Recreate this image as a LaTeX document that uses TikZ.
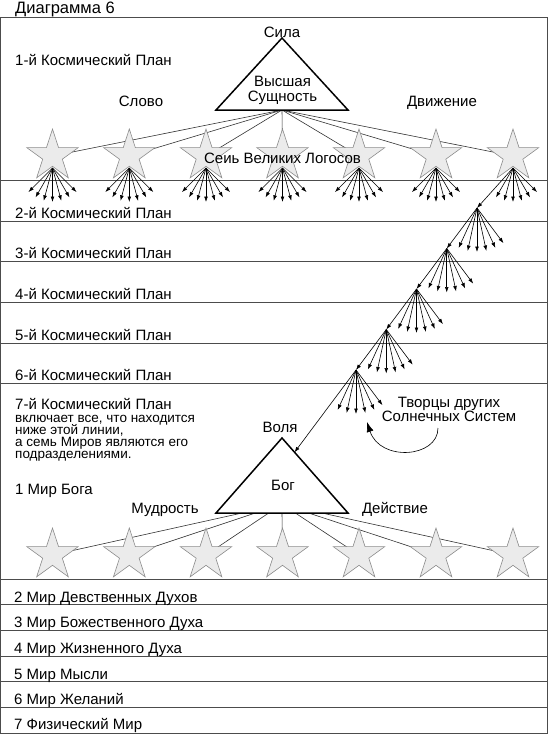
\documentclass[tikz,border=0pt]{standalone}
\usepackage{fontspec}
\setmainfont{Liberation Sans}
\usetikzlibrary{shapes.geometric,arrows.meta,calc,backgrounds}
\begin{document}
\begin{tikzpicture}[x=1pt,y=-1pt,
  lbl/.style={anchor=base west,inner sep=0pt,font=\fontsize{15}{17}\selectfont},
  clbl/.style={anchor=base,inner sep=0pt,font=\fontsize{15}{17}\selectfont},
  small/.style={anchor=base west,inner sep=0pt,font=\fontsize{13.5}{13}\selectfont},
  plane/.style={draw=black!70,line width=0.8pt},
  starnode/.style={star,star points=5,star point ratio=2.618,minimum size=54pt,inner sep=0pt,draw=black!45,fill=black!8,line width=0.6pt},
  tri/.style={draw=black,line width=1.5pt,fill=white,line join=miter},
  link/.style={draw=black!80,line width=0.6pt},
  fanarrow/.style={draw=black,line width=0.6pt,-{Latex[length=5.5pt,width=3.8pt]}},
  bigarrow/.style={draw=black,line width=0.6pt,-{Latex[length=10pt,width=7pt]}},
]
\useasboundingbox (0,0) rectangle (550,734);
% frame and planes
\draw[plane] (0.5,17) rectangle (547,733.5);
\foreach \y in {180,221,261,302,343,383,579,604,630,656,681,707}
  \draw[plane] (0.5,\y) -- (547,\y);
% stars
\foreach \i/\x in {1/52.5,2/129.3,3/206,4/282.5,5/359,6/436,7/513}{
  \node[starnode] (t\i) at (\x,156) {};
  \node[starnode] (b\i) at (\x,555) {};
  \coordinate (o\i) at (\x,168);
}
% triangle coordinates
\coordinate (ua) at (282,38);
\coordinate (ul) at (216,110);
\coordinate (ur) at (348,110);
\coordinate (la) at (282,438);
\coordinate (ll) at (216,513);
\coordinate (lr) at (348,513);
\foreach \i in {1,...,7}{
  \coordinate (ub\i) at (282,110);
  \coordinate (lb\i) at ({282+(\i-4)*13.3},513);
}
\begin{scope}[on background layer]
\foreach \i in {1,...,7}{
  \draw[link] (ub\i) -- (t\i.center);
  \draw[link] (lb\i) -- (b\i.center);
}
\end{scope}
% triangles
\draw[tri] (ua) -- (ur) -- (ul) -- cycle;
\draw[tri] (la) -- (lr) -- (ll) -- cycle;
% top fans
\foreach \i in {1,...,6}{
  \foreach \a in {-45,-30,-15,0,15,30,45}
    \draw[fanarrow] (o\i) -- ($(o\i)+({34*sin(\a)},{34*cos(\a)})$);
}
\foreach \a in {-30,-15,0,15,30,45}
  \draw[fanarrow] (o7) -- ($(o7)+({34*sin(\a)},{34*cos(\a)})$);
% diagonal fans
\foreach \k in {1,...,5}{
  \coordinate (f\k) at ({477-(\k-1)*30.25},{208+(\k-1)*40.5});
}
\coordinate (gt) at (294.5,452.3);
\foreach \k in {1,...,5}{
  \foreach \a in {-24.7,-12.3,0,12.3,24.7,37}
    \draw[fanarrow] (f\k) -- ($(f\k)+({44*sin(\a)},{44*cos(\a)})$);
}
\draw[fanarrow] (o7) -- (f1);
\draw[fanarrow] (f1) -- (f2);
\draw[fanarrow] (f2) -- (f3);
\draw[fanarrow] (f3) -- (f4);
\draw[fanarrow] (f4) -- (f5);
\draw[fanarrow] (f5) -- (gt);
% curved arrow
\coordinate (ca) at (438,428);
\coordinate (cb) at (367,422);
\draw[bigarrow] (ca) .. controls (438,458) and (380,462) .. (cb);
% texts
\node[anchor=base west,inner sep=0pt,font=\fontsize{16.5}{18}\selectfont] (title) at (15,13) {Диаграмма 6};
\node[lbl] (p1) at (15,65) {1-й Космический План};
\node[lbl] (p2) at (15,218) {2-й Космический План};
\node[lbl] (p3) at (15,258) {3-й Космический План};
\node[lbl] (p4) at (15,299) {4-й Космический План};
\node[lbl] (p5) at (15,340) {5-й Космический План};
\node[lbl] (p6) at (15,380) {6-й Космический План};
\node[lbl] (p7) at (15,409) {7-й Космический План};
\node[small] (s1) at (15,422) {включает все, что находится};
\node[small] (s2) at (15,434) {ниже этой линии,};
\node[small] (s3) at (15,446) {а семь Миров являются его};
\node[small] (s4) at (15,458) {подразделениями.};
\node[lbl] (w1) at (15,494.5) {1 Мир Бога};
\node[lbl] (w2) at (14,602.5) {2 Мир Девственных Духов};
\node[lbl] (w3) at (14,627.5) {3 Мир Божественного Духа};
\node[lbl] (w4) at (14,653.5) {4 Мир Жизненного Духа};
\node[lbl] (w5) at (14,679) {5 Мир Мысли};
\node[lbl] (w6) at (14,704) {6 Мир Желаний};
\node[lbl] (w7) at (14,729) {7 Физический Мир};
\node[clbl] (sila) at (282,37) {Сила};
\node[clbl] (vys1) at (282.5,86) {Высшая};
\node[clbl] (vys2) at (282.5,101.5) {Сущность};
\node[clbl] (slovo) at (141,106) {Слово};
\node[clbl] (dvizh) at (442,106) {Движение};
\node[clbl] (logos) at (282.5,163) {Сеиь Великих Логосов};
\node[clbl] (volya) at (280,432) {Воля};
\node[clbl] (bog) at (283,490) {Бог};
\node[clbl] (mudr) at (165,513) {Мудрость};
\node[clbl] (deistv) at (395,513) {Действие};
\node[clbl] (tv1) at (449,407.5) {Творцы других};
\node[clbl] (tv2) at (449,421) {Солнечных Систем};
\end{tikzpicture}
\end{document}
